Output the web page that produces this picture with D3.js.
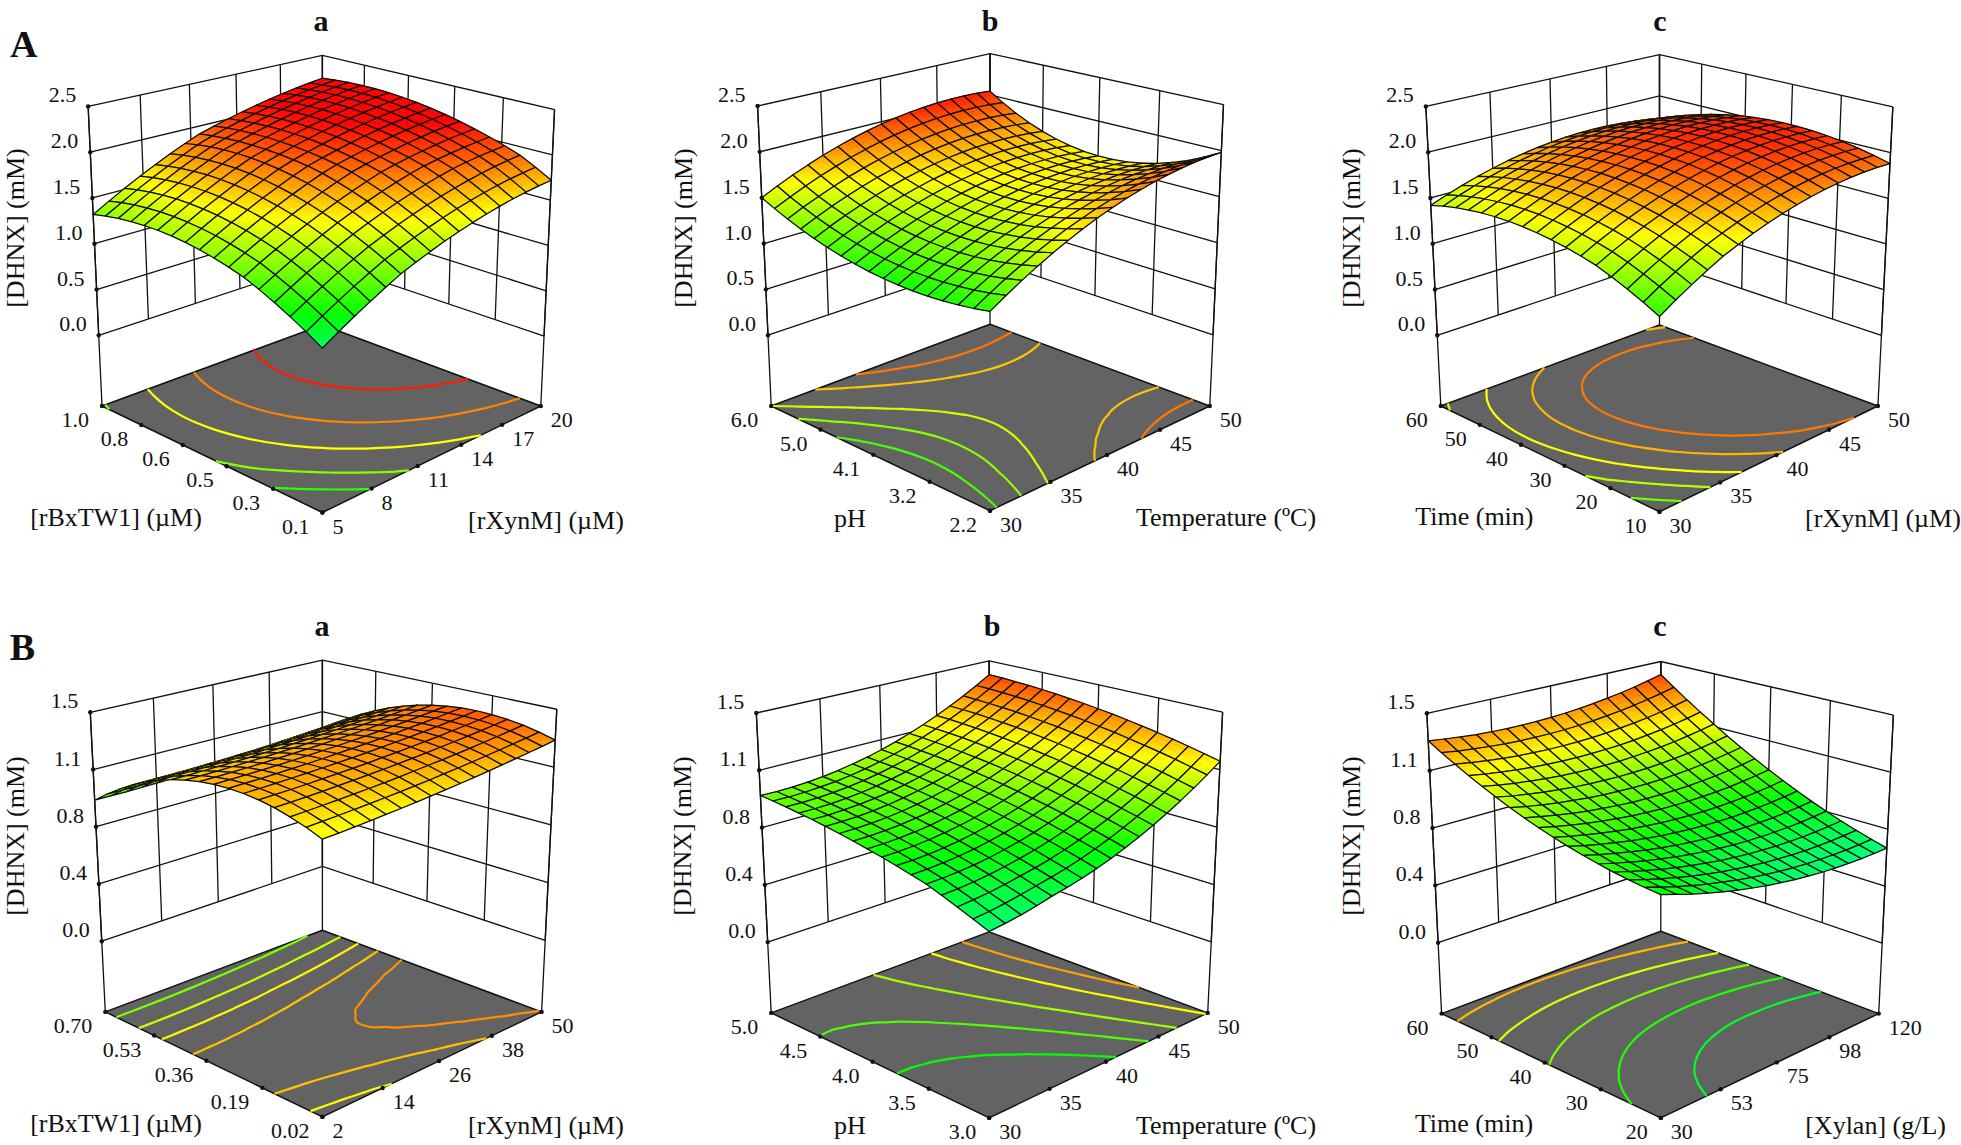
<!DOCTYPE html>
<html>
<head>
<meta charset="utf-8">
<title>DHNX response surfaces</title>
<script src="https://cdn.jsdelivr.net/npm/d3@7"></script>
<style>
  html, body { margin: 0; padding: 0; background: #fff; }
  svg { display: block; }
  text { font-family: "Liberation Serif", "Times New Roman", serif; fill: #111; }
</style>
</head>
<body>
<script>
// response surfaces, in uM of DHNX.
// rows run along the left floor axis (front to back), columns along the right floor axis (front to back)
const surfaceAa = [
[850,948,1041,1129,1213,1292,1354,1412,1465,1513,1557,1596,1630,1660,1684,1705,1720],
[946,1043,1134,1221,1302,1380,1443,1502,1555,1605,1649,1689,1724,1754,1780,1800,1817],
[1035,1129,1219,1305,1385,1460,1524,1584,1638,1688,1733,1774,1809,1840,1867,1889,1905],
[1115,1208,1297,1380,1459,1533,1598,1658,1713,1764,1810,1851,1887,1914,1935,1952,1965],
[1188,1279,1366,1448,1526,1598,1663,1724,1780,1831,1878,1915,1944,1968,1989,2006,2020],
[1253,1343,1428,1508,1584,1655,1721,1782,1839,1891,1929,1962,1990,2015,2037,2055,2069],
[1298,1389,1474,1555,1632,1704,1771,1833,1891,1933,1969,2001,2031,2057,2079,2097,2112],
[1335,1427,1513,1595,1672,1745,1813,1876,1926,1966,2003,2036,2066,2092,2115,2134,2150],
[1365,1457,1544,1627,1705,1778,1847,1908,1953,1994,2031,2065,2095,2122,2145,2165,2181],
[1387,1480,1568,1651,1730,1804,1873,1929,1974,2015,2053,2088,2118,2146,2170,2190,2207],
[1401,1494,1583,1667,1747,1822,1892,1943,1989,2031,2070,2104,2136,2164,2188,2209,2227],
[1407,1501,1591,1676,1756,1832,1902,1952,1998,2040,2080,2115,2148,2176,2201,2223,2241],
[1405,1500,1591,1676,1758,1834,1905,1955,2001,2045,2085,2121,2154,2182,2208,2230,2249],
[1395,1491,1583,1669,1751,1828,1901,1952,1999,2043,2083,2120,2153,2183,2209,2232,2251],
[1378,1475,1567,1654,1737,1815,1888,1943,1991,2035,2076,2113,2147,2178,2205,2228,2247],
[1353,1450,1543,1631,1715,1794,1868,1928,1977,2022,2063,2101,2136,2166,2193,2217,2238],
[1320,1418,1512,1601,1685,1765,1839,1908,1956,2002,2044,2082,2118,2149,2177,2202,2223]
];
const surfaceAb = [
[1157,1255,1347,1433,1513,1586,1653,1714,1769,1817,1859,1895,1924,1948,1965,1976,1980],
[1128,1222,1311,1392,1468,1537,1601,1657,1708,1752,1791,1822,1848,1867,1881,1887,1888],
[1106,1197,1281,1360,1432,1497,1557,1610,1657,1698,1732,1761,1783,1798,1808,1811,1808],
[1091,1179,1260,1335,1404,1466,1522,1572,1616,1654,1685,1710,1729,1741,1747,1747,1741],
[1082,1167,1245,1317,1383,1443,1496,1544,1584,1619,1648,1670,1686,1695,1699,1696,1687],
[1080,1162,1238,1308,1372,1429,1480,1525,1563,1595,1621,1641,1655,1662,1663,1658,1646],
[1085,1165,1239,1307,1368,1423,1472,1515,1551,1582,1606,1623,1635,1640,1639,1632,1618],
[1096,1175,1247,1313,1373,1426,1474,1515,1550,1578,1600,1616,1626,1630,1627,1618,1603],
[1114,1191,1262,1327,1386,1438,1484,1524,1558,1585,1606,1621,1629,1632,1628,1617,1601],
[1139,1215,1286,1349,1407,1458,1504,1542,1575,1601,1622,1635,1643,1644,1640,1628,1611],
[1171,1247,1317,1380,1437,1488,1533,1571,1603,1629,1649,1662,1669,1670,1665,1653,1635],
[1209,1285,1354,1418,1475,1525,1570,1608,1640,1666,1685,1699,1706,1706,1701,1689,1671],
[1254,1330,1400,1463,1521,1572,1616,1655,1687,1713,1733,1746,1754,1755,1749,1738,1720],
[1305,1382,1452,1516,1574,1626,1671,1711,1743,1770,1791,1805,1813,1814,1810,1799,1782],
[1363,1441,1512,1578,1637,1689,1736,1776,1810,1838,1859,1875,1884,1886,1883,1873,1857],
[1428,1507,1580,1647,1707,1761,1809,1851,1886,1916,1939,1955,1966,1970,1968,1960,1945],
[1500,1581,1656,1724,1787,1843,1892,1936,1973,2004,2029,2047,2060,2066,2065,2059,2046]
];
const surfaceAc = [
[1140,1241,1335,1423,1505,1571,1630,1683,1730,1771,1805,1833,1855,1871,1880,1883,1880],
[1219,1316,1406,1490,1568,1632,1690,1741,1786,1825,1858,1885,1905,1919,1927,1929,1924],
[1291,1383,1469,1549,1623,1686,1742,1792,1836,1873,1904,1929,1948,1961,1967,1967,1961],
[1355,1444,1526,1602,1671,1732,1787,1835,1878,1914,1943,1967,1984,1995,2000,1998,1990],
[1413,1497,1575,1647,1713,1772,1825,1872,1913,1947,1975,1997,2013,2022,2025,2022,2013],
[1453,1535,1612,1682,1746,1804,1856,1901,1940,1973,2000,2020,2034,2042,2043,2039,2028],
[1486,1567,1642,1711,1773,1829,1879,1923,1961,1992,2017,2036,2048,2054,2054,2048,2036],
[1511,1591,1665,1732,1793,1847,1896,1938,1974,2004,2027,2044,2055,2060,2058,2050,2036],
[1530,1608,1680,1746,1805,1858,1905,1946,1980,2008,2030,2046,2055,2058,2055,2046,2030],
[1541,1618,1688,1752,1810,1862,1907,1946,1979,2005,2026,2040,2048,2049,2045,2034,2016],
[1546,1621,1689,1752,1808,1858,1902,1939,1971,1996,2014,2027,2033,2033,2027,2014,1996],
[1543,1616,1683,1744,1799,1847,1890,1925,1955,1979,1996,2007,2011,2010,2002,1988,1968],
[1533,1604,1670,1729,1783,1829,1870,1904,1933,1954,1970,1979,1983,1979,1970,1954,1933],
[1515,1585,1650,1707,1759,1804,1843,1876,1903,1923,1937,1945,1946,1942,1931,1914,1890],
[1491,1559,1622,1678,1728,1772,1809,1841,1866,1884,1897,1903,1903,1897,1884,1866,1841],
[1459,1526,1587,1642,1690,1732,1768,1798,1821,1839,1850,1854,1853,1845,1831,1810,1784],
[1420,1486,1545,1598,1645,1686,1720,1748,1770,1786,1795,1798,1795,1786,1770,1748,1720]
];
const surfaceBa = [
[1140,1145,1151,1158,1165,1173,1181,1190,1200,1210,1221,1233,1245,1258,1271,1285,1300],
[1179,1184,1189,1195,1201,1208,1216,1224,1233,1243,1253,1264,1276,1288,1301,1314,1328],
[1211,1215,1220,1225,1231,1237,1244,1252,1261,1270,1279,1289,1300,1312,1324,1337,1350],
[1237,1240,1244,1249,1254,1260,1266,1273,1281,1289,1298,1308,1318,1329,1340,1352,1365],
[1255,1258,1261,1265,1270,1275,1281,1287,1295,1302,1311,1320,1329,1340,1350,1362,1374],
[1266,1268,1271,1275,1279,1284,1289,1295,1302,1309,1317,1325,1334,1344,1354,1365,1377],
[1270,1272,1274,1277,1281,1285,1290,1296,1302,1309,1316,1324,1333,1342,1352,1363,1374],
[1267,1268,1270,1273,1276,1280,1285,1290,1295,1302,1309,1316,1325,1334,1343,1353,1364],
[1257,1258,1260,1262,1265,1268,1272,1277,1283,1289,1295,1302,1310,1319,1328,1338,1348],
[1240,1241,1242,1244,1247,1250,1254,1258,1263,1269,1275,1282,1290,1298,1307,1316,1326],
[1216,1216,1218,1219,1222,1224,1228,1232,1237,1242,1249,1255,1263,1271,1279,1288,1298],
[1185,1185,1186,1187,1189,1192,1195,1199,1204,1209,1215,1221,1228,1236,1244,1253,1263],
[1147,1147,1148,1149,1151,1153,1156,1160,1165,1170,1175,1181,1188,1196,1204,1213,1222],
[1102,1102,1102,1103,1105,1108,1111,1114,1118,1123,1129,1135,1142,1149,1157,1166,1175],
[1049,1049,1049,1050,1052,1055,1058,1061,1065,1070,1076,1082,1089,1096,1104,1113,1122],
[990,990,990,991,993,995,998,1002,1006,1011,1016,1022,1029,1036,1044,1053,1062],
[924,924,924,925,927,929,932,936,940,945,950,956,963,970,978,987,996]
];
const surfaceBb = [
[627,638,653,673,696,715,738,764,795,829,868,910,956,1006,1060,1118,1180],
[664,673,687,704,724,743,765,792,822,856,894,936,982,1032,1085,1143,1204],
[700,708,718,733,751,769,791,817,847,881,919,960,1006,1055,1109,1166,1227],
[736,740,748,760,776,794,816,842,871,905,942,983,1029,1078,1131,1188,1249],
[769,771,777,786,800,818,839,864,894,927,964,1005,1050,1099,1152,1208,1269],
[792,794,800,809,822,840,861,886,915,948,985,1025,1070,1118,1171,1227,1287],
[815,816,821,830,843,860,881,906,935,967,1004,1044,1088,1137,1189,1245,1305],
[836,837,842,850,863,880,900,925,953,985,1022,1062,1106,1154,1205,1261,1321],
[855,856,860,869,881,898,918,942,970,1002,1038,1078,1121,1169,1220,1276,1335],
[873,873,878,886,898,914,934,958,986,1017,1053,1092,1136,1183,1234,1289,1348],
[890,890,894,902,913,929,949,972,1000,1031,1066,1105,1148,1195,1246,1301,1360],
[905,905,908,916,927,943,962,985,1012,1043,1078,1117,1160,1207,1257,1312,1370],
[919,918,922,929,940,955,974,997,1024,1054,1089,1128,1170,1216,1267,1321,1379],
[931,930,933,940,951,966,985,1007,1034,1064,1098,1137,1179,1225,1275,1329,1386],
[942,941,944,950,961,975,994,1016,1042,1072,1106,1144,1186,1232,1281,1335,1392],
[952,950,953,959,969,983,1001,1023,1049,1079,1113,1150,1192,1237,1286,1340,1397],
[960,958,960,966,976,990,1008,1029,1055,1084,1118,1155,1196,1241,1290,1343,1400]
];
const surfaceBc = [
[840,808,778,751,726,704,684,667,653,640,631,623,619,617,617,620,625],
[849,818,789,763,740,719,700,684,671,660,651,645,642,641,642,646,653],
[861,831,803,779,756,736,719,704,692,682,675,670,667,668,670,675,683],
[875,847,820,797,776,757,741,727,716,707,701,697,696,697,701,708,716],
[893,865,840,818,798,780,765,753,743,735,730,728,728,730,735,743,753],
[913,886,863,841,822,806,792,781,772,766,762,761,762,765,772,780,791],
[936,910,888,868,850,835,822,812,804,799,797,796,799,804,811,821,833],
[961,937,916,897,880,866,855,846,840,836,834,835,839,845,853,864,878],
[990,967,947,929,914,901,891,883,878,875,874,877,881,888,898,910,925],
[1021,1000,981,964,950,938,929,922,918,917,918,921,927,935,946,959,975],
[1056,1035,1017,1002,989,978,970,965,962,961,963,968,975,985,997,1011,1028],
[1093,1073,1057,1042,1031,1021,1014,1010,1008,1009,1012,1018,1026,1037,1050,1066,1084],
[1133,1114,1099,1086,1075,1067,1061,1058,1058,1059,1064,1071,1080,1092,1106,1123,1143],
[1175,1158,1144,1132,1122,1115,1111,1109,1110,1113,1118,1126,1137,1150,1165,1183,1204],
[1221,1205,1192,1181,1172,1167,1163,1163,1164,1169,1175,1185,1196,1210,1227,1246,1268],
[1269,1254,1242,1233,1225,1221,1219,1219,1222,1227,1235,1246,1259,1274,1292,1312,1335],
[1320,1307,1296,1287,1281,1278,1277,1278,1283,1289,1298,1310,1324,1340,1359,1381,1405]
];

// contour levels on the floor (uM)
const levelsAa = [1140, 1340, 1600, 1850, 2065];
const levelsAb = [1200, 1350, 1500, 1720, 1880];
const levelsAc = [1280, 1450, 1600, 1750, 1880];
const levelsBa = [985, 1090, 1170, 1240, 1305];
const levelsBb = [820, 920, 1030, 1170, 1280];
const levelsBc = [750, 860, 980, 1110, 1255];

// colour ramp stops (uM), blue low to red high
const rampA = [-50, 500, 1050, 1600, 2120];
const rampB = [60, 380, 820, 1160, 1490];
const rampColors = ["#0000ff", "#00ffff", "#00ff00", "#ffff00", "#ff0000"];

// tick labels, front corner first
const zTicksA = ["0.0", "0.5", "1.0", "1.5", "2.0", "2.5"];
const zTicksB = ["0.0", "0.4", "0.8", "1.1", "1.5"];
const ticksXynA = ["5", "8", "11", "14", "17", "20"];
const ticksBxA = ["0.1", "0.3", "0.5", "0.6", "0.8", "1.0"];
const ticksTemp = ["30", "35", "40", "45", "50"];
const ticksPhA = ["2.2", "3.2", "4.1", "5.0", "6.0"];
const ticksXynAc = ["30", "35", "40", "45", "50"];
const ticksTimeA = ["10", "20", "30", "40", "50", "60"];
const ticksXynB = ["2", "14", "26", "38", "50"];
const ticksBxB = ["0.02", "0.19", "0.36", "0.53", "0.70"];
const ticksPhB = ["3.0", "3.5", "4.0", "4.5", "5.0"];
const ticksXylan = ["30", "53", "75", "98", "120"];
const ticksTimeB = ["20", "30", "40", "50", "60"];

const W = 1961, H = 1145;
const floorFill = "#636363";
const zeroLift = 0.236;   // how far z = 0 sits above the floor, as part of the wall height
const GRID = 16;

// box corners on screen for each panel: floor L F R B, wall tops TL TR TB
const boxes = {
  Aa: { L: [102, 406], F: [322.4, 512.5], R: [540.8, 406], B: [322.4, 325], TL: [88.6, 106.4], TR: [555, 106.4], TB: [322.4, 55.4] },
  Ab: { L: [771.2, 406], F: [990, 510.7], R: [1209.8, 406], B: [990, 324.3], TL: [757.3, 106], TR: [1223.2, 106], TB: [990, 53.6] },
  Ac: { L: [1440.8, 406], F: [1659.5, 511.8], R: [1877.9, 406], B: [1659.5, 325], TL: [1426.2, 106.4], TR: [1893.2, 106.4], TB: [1659.5, 54.6] },
  Ba: { L: [105.3, 1011.9], F: [322.4, 1116.9], R: [541.6, 1011.9], B: [322.4, 930.2], TL: [89.8, 712.3], TR: [556.3, 712.3], TB: [322.4, 660.1] },
  Bb: { L: [771.2, 1012.9], F: [989.2, 1117.9], R: [1207.7, 1012.9], B: [989.2, 931.9], TL: [756.1, 713], TR: [1222.4, 713], TB: [989.2, 660.8] },
  Bc: { L: [1441.6, 1013.6], F: [1660.8, 1117.9], R: [1878.7, 1013.6], B: [1660.8, 931.2], TL: [1427.5, 713.3], TR: [1894, 713.3], TB: [1660.8, 661.5] }
};

const panels = [
  { key: "Aa", title: "a", rows: surfaceAa, levels: levelsAa, ramp: rampA, zMax: 2500, zTicks: zTicksA, aTicks: ticksXynA, bTicks: ticksBxA,
    aTitle: "[rXynM] (µM)", bTitle: "[rBxTW1] (µM)", aPos: [546, 520], bPos: [116, 517], zPos: [15.5, 228], titlePos: [321, 23] },
  { key: "Ab", title: "b", rows: surfaceAb, levels: levelsAb, ramp: rampA, zMax: 2500, zTicks: zTicksA, aTicks: ticksTemp, bTicks: ticksPhA,
    aTitle: "Temperature (ºC)", bTitle: "pH", aPos: [1226, 517], bPos: [850, 518], zPos: [683.7, 228], titlePos: [990, 23] },
  { key: "Ac", title: "c", rows: surfaceAc, levels: levelsAc, ramp: rampA, zMax: 2500, zTicks: zTicksA, aTicks: ticksXynAc, bTicks: ticksTimeA,
    aTitle: "[rXynM] (µM)", bTitle: "Time (min)", aPos: [1883, 518], bPos: [1474.4, 516], zPos: [1351.5, 228], titlePos: [1660, 23] },
  { key: "Ba", title: "a", rows: surfaceBa, levels: levelsBa, ramp: rampB, zMax: 1500, zTicks: zTicksB, aTicks: ticksXynB, bTicks: ticksBxB,
    aTitle: "[rXynM] (µM)", bTitle: "[rBxTW1] (µM)", aPos: [546, 1125.5], bPos: [116, 1123], zPos: [15.5, 836], titlePos: [322, 628] },
  { key: "Bb", title: "b", rows: surfaceBb, levels: levelsBb, ramp: rampB, zMax: 1500, zTicks: zTicksB, aTicks: ticksTemp, bTicks: ticksPhB,
    aTitle: "Temperature (ºC)", bTitle: "pH", aPos: [1226, 1125], bPos: [850, 1125], zPos: [682.8, 836], titlePos: [992, 628] },
  { key: "Bc", title: "c", rows: surfaceBc, levels: levelsBc, ramp: rampB, zMax: 1500, zTicks: zTicksB, aTicks: ticksXylan, bTicks: ticksTimeB,
    aTitle: "[Xylan] (g/L)", bTitle: "Time (min)", aPos: [1875.6, 1125], bPos: [1474, 1123], zPos: [1351.5, 836], titlePos: [1660, 628] }
];

const svg = d3.select("body").append("svg").attr("width", W).attr("height", H);

// perspective box: (a, b, h) in 0..1, a along front->right, b along front->left, h floor->wall top
function makeProjector(c) {
  const [x0, y0] = c.F, [x1, y1] = c.R, [x2, y2] = c.B, [x3, y3] = c.L;
  const sx = x0 - x1 + x2 - x3, sy = y0 - y1 + y2 - y3;
  const dx1 = x1 - x2, dx2 = x3 - x2, dy1 = y1 - y2, dy2 = y3 - y2;
  const den = dx1 * dy2 - dx2 * dy1;
  const p = (sx * dy2 - dx2 * sy) / den, q = (dx1 * sy - sx * dy1) / den;
  const xa = x1 - x0 + p * x1, xb = x3 - x0 + q * x3, ya = y1 - y0 + p * y1, yb = y3 - y0 + q * y3;
  const A = c.TL[1] * (1 + q) - y0 - yb;
  const B = c.TB[1] * (1 + p + q) - y0 - ya - yb;
  const r = (A - B) / (c.TB[1] - c.TL[1]);
  const yh = A + c.TL[1] * r;
  // the figure's walls lean out less than its heights shrink, so x gets its own spread factor
  const spread = ((c.TL[0] - x3) / (x3 - x0) + (c.TR[0] - x1) / (x1 - x0)) / 2;
  return (a, b, h) => {
    const w = 1 + p * a + q * b;
    const xf = (x0 + xa * a + xb * b) / w;
    const yf = (y0 + ya * a + yb * b) / w;
    const yt = (y0 + ya * a + yb * b + yh) / (w + r);
    // ticks on the walls are evenly spaced, so height runs straight from floor to top
    return [xf + h * spread * (xf - x0), yf + h * (yt - yf)];
  };
}

const polyPath = (pts) => "M" + pts.map((d) => d[0].toFixed(2) + "," + d[1].toFixed(2)).join("L") + "Z";
const lineGen = d3.line();
const contourLine = d3.line().curve(d3.curveCatmullRom);

function drawPanel(cfg) {
  const g = svg.append("g").attr("class", "panel-" + cfg.key);
  const proj = makeProjector(boxes[cfg.key]);
  const rows = cfg.rows;

  const gridPos = d3.scaleLinear().domain([0, GRID]).range([0, 1]);
  const contourPos = d3.scaleLinear().domain([0.5, GRID + 0.5]).range([0, 1]);
  const zPos = d3.scaleLinear().domain([0, cfg.zMax]).range([zeroLift, 1]);
  const color = d3.scaleLinear().domain(cfg.ramp).range(rampColors).clamp(true);
  const aTick = d3.scalePoint().domain(cfg.aTicks).range([0, 1]);
  const bTick = d3.scalePoint().domain(cfg.bTicks).range([0, 1]);
  const zTick = d3.scalePoint().domain(cfg.zTicks).range([zeroLift, 1]);

  // back walls
  const wallLines = [];
  cfg.zTicks.forEach((t) => {
    const h = zTick(t);
    wallLines.push([proj(0, 1, h), proj(1, 1, h), proj(1, 0, h)]);
  });
  cfg.aTicks.forEach((t) => wallLines.push([proj(aTick(t), 1, zeroLift), proj(aTick(t), 1, 1)]));
  cfg.bTicks.forEach((t) => wallLines.push([proj(1, bTick(t), zeroLift), proj(1, bTick(t), 1)]));
  wallLines.push([proj(0, 1, 0), proj(0, 1, 1)], [proj(1, 1, 0), proj(1, 1, 1)], [proj(1, 0, 0), proj(1, 0, 1)]);
  g.append("g").selectAll("path").data(wallLines).join("path")
    .attr("d", (d) => lineGen(d)).attr("fill", "none").attr("stroke", "#111").attr("stroke-width", 1.3);

  // floor
  g.append("path").attr("d", polyPath([proj(0, 0, 0), proj(1, 0, 0), proj(1, 1, 0), proj(0, 1, 0)]))
    .attr("fill", floorFill).attr("stroke", "#111").attr("stroke-width", 1.5).attr("stroke-linejoin", "round");

  // contours on the floor, d3.contours traces the outer border too so those bits get cut off
  const inside = (v) => v >= 0.5 - 1e-6 && v <= GRID + 0.5 + 1e-6;
  const contours = d3.contours().size([GRID + 1, GRID + 1]).thresholds(cfg.levels)(rows.flat());
  contours.forEach((ct) => {
    const runs = [];
    ct.coordinates.forEach((poly) => poly.forEach((ring) => {
      let pts = ring.slice(0, -1);
      const firstOut = pts.findIndex((d) => !(inside(d[0]) && inside(d[1])));
      if (firstOut > 0) pts = pts.slice(firstOut).concat(pts.slice(0, firstOut));
      let run = [];
      pts.forEach((d) => {
        if (inside(d[0]) && inside(d[1])) run.push(d);
        else { if (run.length > 1) runs.push(run); run = []; }
      });
      if (firstOut < 0) run.push(pts[0]);
      if (run.length > 1) runs.push(run);
    }));
    g.append("g").selectAll("path").data(runs).join("path")
      .attr("d", (run) => contourLine(run.map((d) => proj(contourPos(d[0]), contourPos(d[1]), 0))))
      .attr("fill", "none").attr("stroke", color(ct.value)).attr("stroke-width", 2.2);
  });

  // surface, painted back to front; each cell shaded in sub-cells then outlined
  const SUB = 3, cells = [];
  for (let j = GRID - 1; j >= 0; j--) {
    for (let i = GRID - 1; i >= 0; i--) {
      const z00 = rows[j][i], z10 = rows[j][i + 1], z01 = rows[j + 1][i], z11 = rows[j + 1][i + 1];
      const at = (u, v) => {
        const z = (z00 * (1 - u) + z10 * u) * (1 - v) + (z01 * (1 - u) + z11 * u) * v;
        return { z, p: proj(gridPos(i + u), gridPos(j + v), zPos(z)) };
      };
      for (let n = SUB - 1; n >= 0; n--) {
        for (let m = SUB - 1; m >= 0; m--) {
          const c = [at(m / SUB, n / SUB), at((m + 1) / SUB, n / SUB), at((m + 1) / SUB, (n + 1) / SUB), at(m / SUB, (n + 1) / SUB)];
          const col = color(d3.mean(c, (d) => d.z));
          cells.push({ d: polyPath(c.map((d) => d.p)), fill: col, stroke: col, sw: 0.6 });
        }
      }
      cells.push({ d: polyPath([at(0, 0).p, at(1, 0).p, at(1, 1).p, at(0, 1).p]), fill: "none", stroke: "#0a0a0a", sw: 1.25 });
    }
  }
  g.append("g").selectAll("path").data(cells).join("path")
    .attr("d", (d) => d.d).attr("fill", (d) => d.fill).attr("stroke", (d) => d.stroke)
    .attr("stroke-width", (d) => d.sw).attr("stroke-linejoin", "round");

  // tick dots and labels
  const dots = [];
  cfg.zTicks.forEach((t) => dots.push(proj(0, 1, zTick(t))));
  cfg.aTicks.forEach((t) => dots.push(proj(aTick(t), 0, 0)));
  cfg.bTicks.forEach((t) => dots.push(proj(0, bTick(t), 0)));
  g.append("g").selectAll("circle").data(dots).join("circle")
    .attr("cx", (d) => d[0]).attr("cy", (d) => d[1]).attr("r", 2.2).attr("fill", "#111");

  const label = (txt, p, dx, dy, anchor) => g.append("text").attr("x", p[0] + dx).attr("y", p[1] + dy)
    .attr("text-anchor", anchor).style("font-size", "22px").text(txt);
  cfg.zTicks.forEach((t) => label(t, proj(0, 1, zTick(t)), -12, -4, "end"));
  cfg.aTicks.forEach((t) => label(t, proj(aTick(t), 0, 0), 10, 21, "start"));
  cfg.bTicks.forEach((t) => label(t, proj(0, bTick(t), 0), -13, 21, "end"));

  const title = (txt, p) => g.append("text").attr("x", p[0]).attr("y", p[1] + 8.5)
    .attr("text-anchor", "middle").style("font-size", "26px").text(txt);
  title(cfg.aTitle, cfg.aPos);
  title(cfg.bTitle, cfg.bPos);
  g.append("text").attr("transform", `translate(${cfg.zPos[0]},${cfg.zPos[1]}) rotate(-90)`)
    .attr("dy", "0.33em").attr("text-anchor", "middle").style("font-size", "26px").text("[DHNX] (mM)");
  g.append("text").attr("x", cfg.titlePos[0]).attr("y", cfg.titlePos[1] + 8)
    .attr("text-anchor", "middle").style("font-size", "30px").style("font-weight", "bold").text(cfg.title);
}

panels.forEach(drawPanel);

// row letters
svg.append("text").attr("x", 23.7).attr("y", 57).attr("text-anchor", "middle")
  .style("font-size", "38px").style("font-weight", "bold").text("A");
svg.append("text").attr("x", 22.5).attr("y", 660).attr("text-anchor", "middle")
  .style("font-size", "38px").style("font-weight", "bold").text("B");
</script>
</body>
</html>
